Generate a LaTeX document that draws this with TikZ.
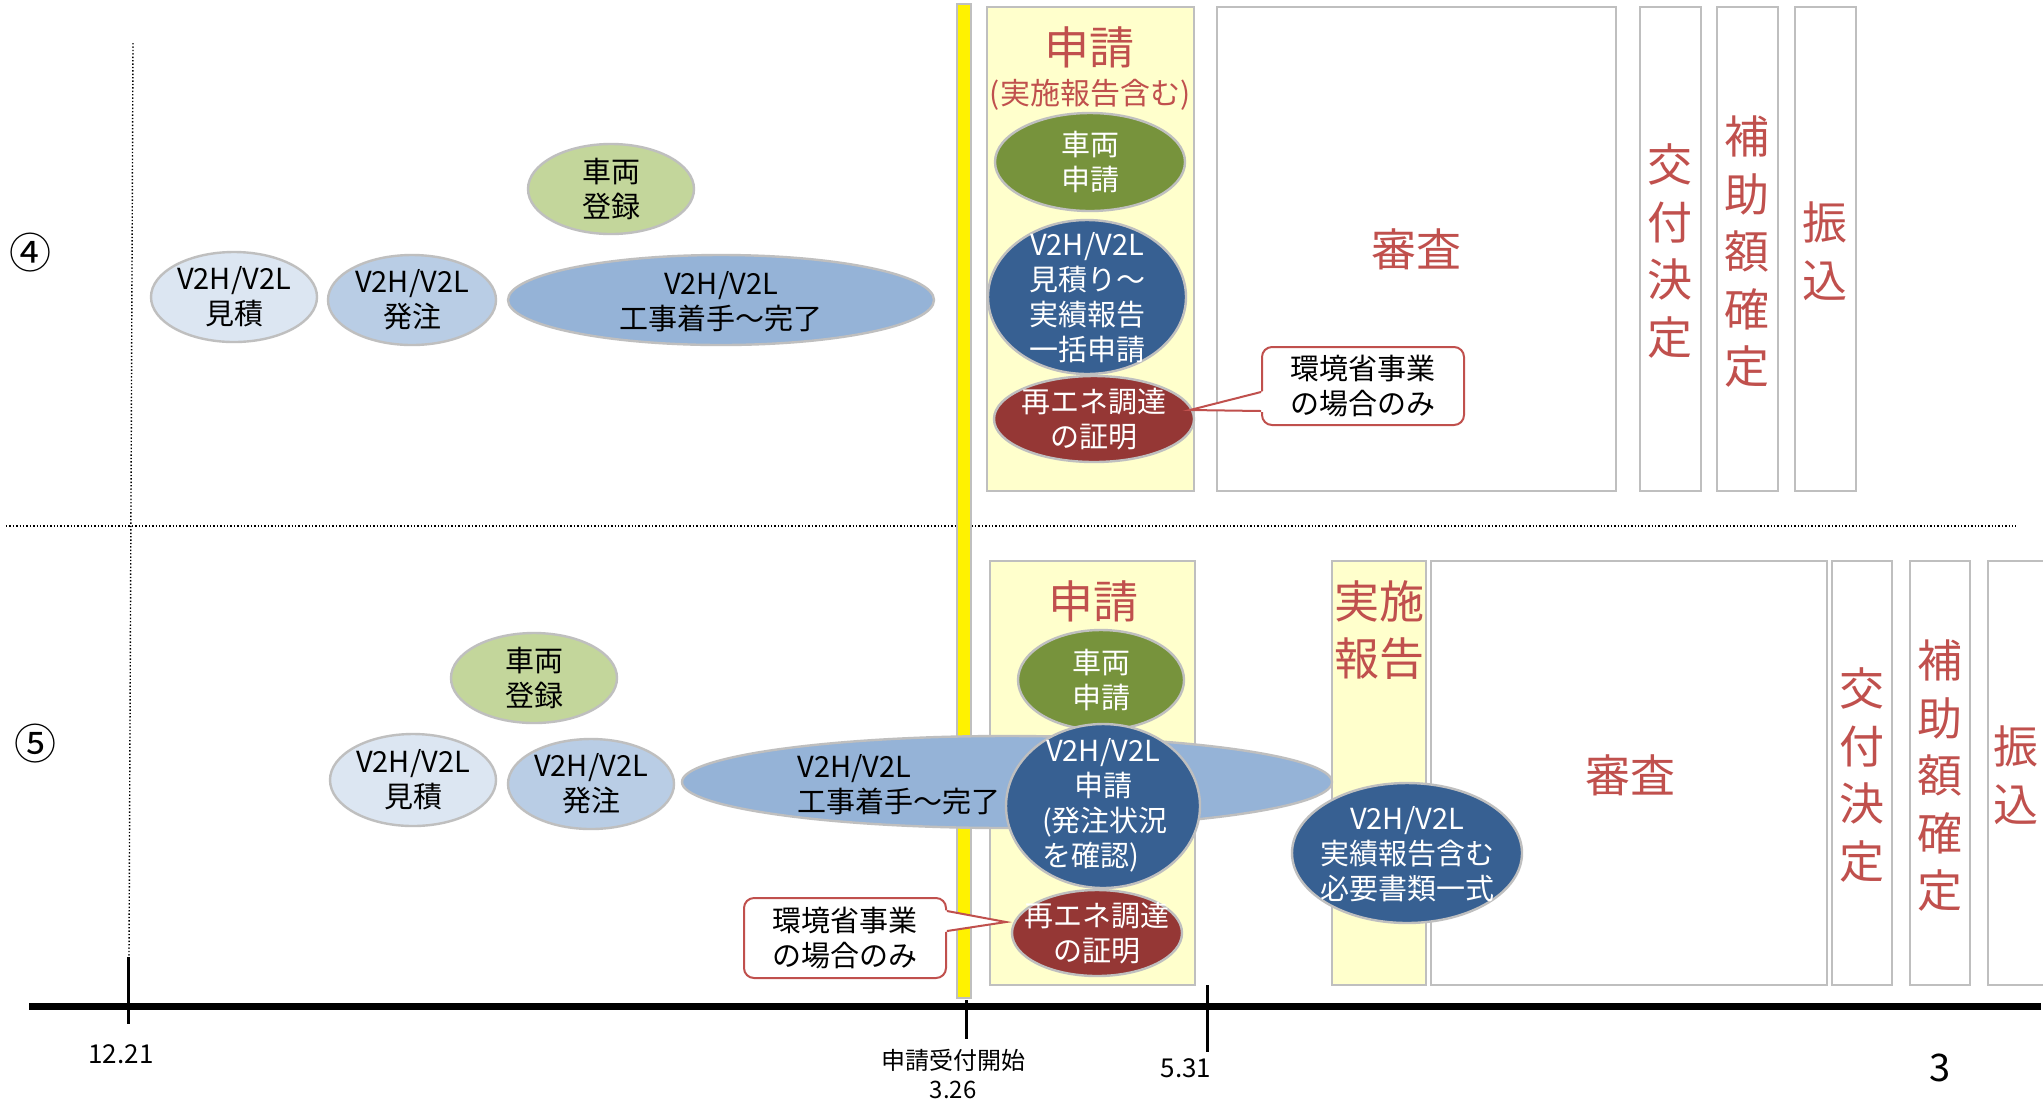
\documentclass[tikz,border=0pt]{standalone}
\usepackage{fontspec}
\setmainfont{Noto Sans CJK JP}
\usetikzlibrary{shapes.geometric,calc}
\definecolor{rtx}{HTML}{C0504D}
\definecolor{lbA}{HTML}{DCE6F2}
\definecolor{lbB}{HTML}{B9CDE5}
\definecolor{lbC}{HTML}{95B3D7}
\definecolor{lgr}{HTML}{C3D69B}
\definecolor{dgr}{HTML}{77933C}
\definecolor{dbl}{HTML}{376092}
\definecolor{drd}{HTML}{953735}
\definecolor{lyl}{HTML}{FFFFCC}
\definecolor{bord}{HTML}{BFBFBF}
\begin{document}
\begin{tikzpicture}[x=0.5pt,y=-0.5pt,
  ell/.style={ellipse, draw=bord, line width=1.2pt, inner sep=0pt},
  etx/.style={align=center, inner sep=0pt, font=\fontsize{14.5}{17.5}\selectfont},
  wtx/.style={etx, text=white},
  pbox/.style={rectangle, draw=bord, line width=1.1pt, inner sep=0pt},
  rttl/.style={align=center, inner sep=0pt, text=rtx, font=\fontsize{22.5}{28.75}\selectfont},
  callbox/.style={rectangle, rounded corners=5pt, draw=rtx, fill=white, line width=1pt, align=left, inner sep=0pt, font=\fontsize{14.5}{17.5}\selectfont},
  dline/.style={densely dotted, line width=0.7pt},
  axlab/.style={inner sep=0pt, align=center, font=\fontsize{12}{14.5}\selectfont},
  tick/.style={line width=1.5pt}
]
\useasboundingbox (0,0) rectangle (2043,1099);
\fill[white] (0,0) rectangle (2043,1099);

% guide lines
\coordinate (vTop) at (133,43); \coordinate (vBot) at (129,956);
\draw[dline] (vTop) -- (vBot);
\coordinate (hL) at (6,526); \coordinate (hR) at (2016,526);
\draw[dline] (hL) -- (hR);

% row labels
\node[inner sep=0pt, font=\fontsize{21}{21}\selectfont] (r4) at (31,253) {④};
\node[inner sep=0pt, font=\fontsize{21}{21}\selectfont] (r5) at (35,744) {⑤};

% ===== upper row boxes =====
\node[pbox, fill=lyl, minimum width=103.5pt, minimum height=242pt] (apA) at (1090.5,249) {};
\node[pbox, minimum width=199.5pt, minimum height=242pt] (saA) at (1416.5,249) {};
\node[pbox, minimum width=30.5pt, minimum height=242pt] (kfA) at (1670.5,249) {};
\node[pbox, minimum width=30.5pt, minimum height=242pt] (hjA) at (1747.5,249) {};
\node[pbox, minimum width=30.5pt, minimum height=242pt] (fkA) at (1825.5,249) {};
\node[rttl] (apAt) at (1089,47) {申請};
\node[rttl, font=\fontsize{15}{17}\selectfont] (apAs) at (1090,95) {(実施報告含む)};
\node[rttl] (saAt) at (1416,249) {審査};
\node[rttl] (kfAt) at (1670,251) {交\\付\\決\\定};
\node[rttl] (hjAt) at (1747,252) {補\\助\\額\\確\\定};
\node[rttl] (fkAt) at (1825,251) {振\\込};

% yellow bar
\node[rectangle, fill=yellow, draw=bord, line width=0.8pt, minimum width=7pt, minimum height=497pt, inner sep=0pt] (ybar) at (964,501) {};

% ===== upper row ellipses =====
\node[ell, fill=lgr, minimum width=83pt, minimum height=45pt] (trA) at (611,189) {};
\node[etx] at (trA) {車両\\登録};
\node[ell, fill=lbA, minimum width=83pt, minimum height=45pt] (mtA) at (234,297) {};
\node[etx] at (mtA) {V2H/V2L\\見積};
\node[ell, fill=lbB, minimum width=84pt, minimum height=45pt] (hcA) at (412,300) {};
\node[etx] at (hcA) {V2H/V2L\\発注};
\node[ell, fill=lbC, minimum width=213pt, minimum height=45pt] (kjA) at (721,300) {};
\node[etx] at (721,302) {V2H/V2L\\工事着手～完了};
\node[ell, fill=dgr, minimum width=95pt, minimum height=49pt] (vsA) at (1090,162) {};
\node[wtx] at (vsA) {車両\\申請};
\node[ell, fill=dbl, minimum width=99pt, minimum height=77pt] (blA) at (1087,297) {};
\node[wtx] at (1087,298) {V2H/V2L\\見積り～\\実績報告\\一括申請};
\node[ell, fill=drd, minimum width=100pt, minimum height=43pt] (rdA) at (1094,419) {};
\node[wtx] at (rdA) {再エネ調達\\の証明};

% callout upper
\node[callbox, minimum width=101pt, minimum height=39pt] (cA) at (1363,386) {環境省事業\\の場合のみ};
\coordinate (tipA) at (1190,410);
\fill[white] ($(cA.west)+(3,5)$) -- (tipA) -- ($(cA.west)+(3,26)$) -- cycle;
\draw[rtx, line width=1pt] ($(cA.west)+(0,6)$) -- (tipA) -- ($(cA.west)+(0,25)$);

% ===== lower row boxes =====
\node[pbox, fill=lyl, minimum width=102.5pt, minimum height=212pt] (apB) at (1092.5,773) {};
\node[pbox, fill=lyl, minimum width=47pt, minimum height=212pt] (jsB) at (1379,773) {};
\node[pbox, minimum width=198pt, minimum height=212pt] (saB) at (1629,773) {};
\node[pbox, minimum width=30pt, minimum height=212pt] (kfB) at (1862,773) {};
\node[pbox, minimum width=30pt, minimum height=212pt] (hjB) at (1940,773) {};
\node[pbox, minimum width=30pt, minimum height=212pt] (fkB) at (2018,773) {};
\node[rttl] (apBt) at (1093,601) {申請};
\node[rttl] (jsBt) at (1379,630) {実施\\報告};
\node[rttl] (saBt) at (1630,775) {審査};
\node[rttl] (kfBt) at (1862,775) {交\\付\\決\\定};
\node[rttl] (hjBt) at (1940,776) {補\\助\\額\\確\\定};
\node[rttl] (fkBt) at (2016,775) {振\\込};

% ===== lower row ellipses =====
\node[ell, fill=lgr, minimum width=83pt, minimum height=45pt] (trB) at (534,678) {};
\node[etx] at (trB) {車両\\登録};
\node[ell, fill=lbA, minimum width=83pt, minimum height=46pt] (mtB) at (413,780) {};
\node[etx] at (mtB) {V2H/V2L\\見積};
\node[ell, fill=lbB, minimum width=83pt, minimum height=45pt] (hcB) at (591,784) {};
\node[etx] at (hcB) {V2H/V2L\\発注};
\node[ell, fill=lbC, minimum width=325pt, minimum height=46pt] (kjB) at (1007,782) {};
\node[etx, align=left, anchor=west] at (797,785) {V2H/V2L\\工事着手～完了};
\node[ell, fill=dgr, minimum width=83pt, minimum height=50pt] (vsB) at (1101,680) {};
\node[wtx] at (vsB) {車両\\申請};
\node[ell, fill=dbl, minimum width=97pt, minimum height=82pt] (blB) at (1103,806) {};
\node[wtx] at (1103,805) {V2H/V2L\\申請\\\makebox[4.2em][l]{(発注状況}\\\makebox[4.2em][l]{を確認)}};
\node[ell, fill=drd, minimum width=85pt, minimum height=43pt] (rdB) at (1097,933) {};
\node[wtx] at (rdB) {再エネ調達\\の証明};
\node[ell, fill=dbl, minimum width=115pt, minimum height=70pt] (jrB) at (1407,853) {};
\node[wtx] at (1407,854) {V2H/V2L\\実績報告含む\\必要書類一式};

% callout lower
\node[callbox, minimum width=101pt, minimum height=40pt] (cB) at (845,938) {環境省事業\\の場合のみ};
\coordinate (tipB) at (1006,922);
\fill[white] ($(cB.east)+(-3,-28)$) -- (tipB) -- ($(cB.east)+(-3,-6)$) -- cycle;
\draw[rtx, line width=1pt] ($(cB.east)+(0,-27)$) -- (tipB) -- ($(cB.east)+(0,-7)$);

% ===== time axis =====
\coordinate (axL) at (29,1006); \coordinate (axR) at (2041,1006);
\draw[line width=3.5pt] (axL) -- (axR);
\coordinate (t1a) at (128,957); \coordinate (t1b) at (128,1024);
\draw[tick] (t1a) -- (t1b);
\coordinate (t2a) at (966,1000); \coordinate (t2b) at (966,1039);
\draw[tick] (t2a) -- (t2b);
\coordinate (t3a) at (1207,985); \coordinate (t3b) at (1207,1052);
\draw[tick] (t3a) -- (t3b);
\node[axlab, font=\fontsize{13}{15}\selectfont] (l1) at (121,1054) {12.21};
\node[axlab] (l2) at (953,1074) {申請受付開始\\3.26};
\node[axlab, font=\fontsize{13}{15}\selectfont] (l3) at (1186,1068) {5.31};
\node[axlab, font=\fontsize{19}{19}\selectfont] (pg) at (1940,1068) {3};
\end{tikzpicture}
\end{document}
